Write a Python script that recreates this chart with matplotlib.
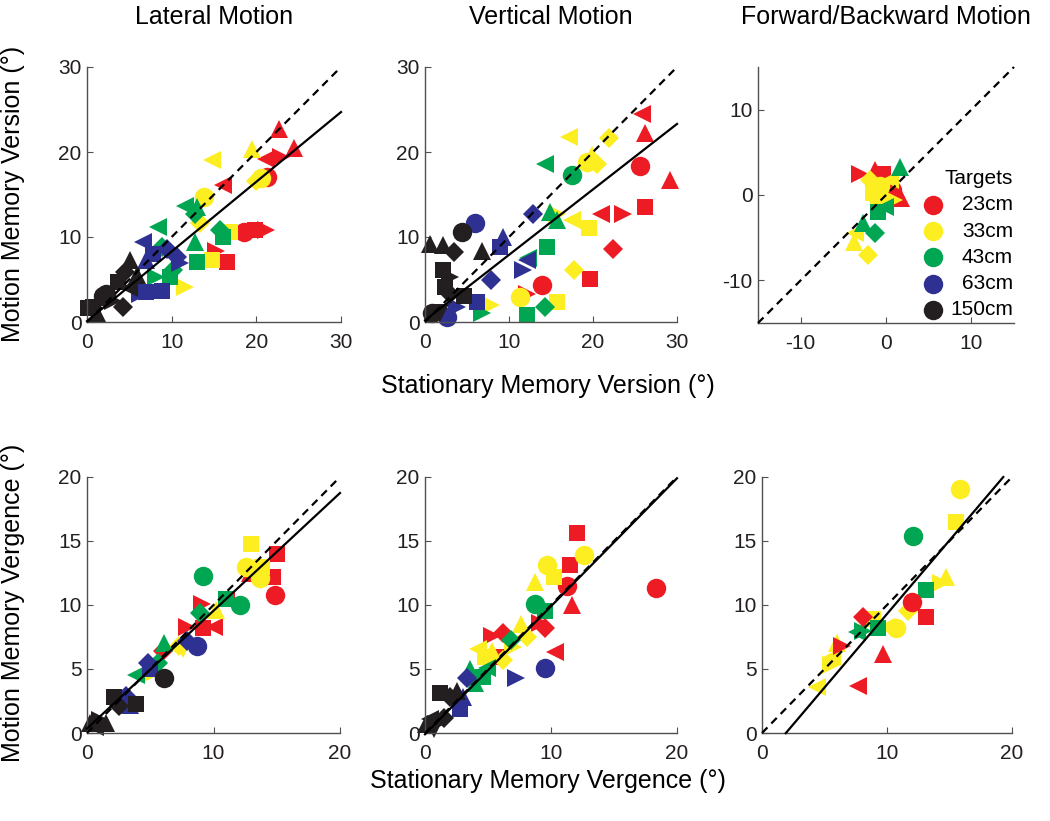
import matplotlib.pyplot as plt

plt.rcParams['font.family'] = ['Liberation Sans', 'DejaVu Sans']
plt.rcParams['axes.unicode_minus'] = False

targets = ['23cm', '33cm', '43cm', '63cm', '150cm']
target_colors = ['#ED1C24', '#FCEE21', '#00A651', '#2E3192', '#231F20']

# (target index, stationary, motion, marker)
lat_version = [
    (0, 22.7, 22.7, '^'), (0, 24.5, 20.5, '^'), (0, 21.1, 19.2, '<'), (0, 22.9, 19.4, '>'),
    (0, 21.3, 17.1, 'o'), (0, 16.1, 16.1, '<'), (0, 18.5, 10.6, 'o'), (0, 19.9, 10.8, 's'),
    (0, 21.1, 10.8, '>'), (0, 15.2, 8.4, '>'), (0, 16.5, 7.1, 's'),
    (1, 19.5, 20.4, '^'), (1, 14.8, 19.0, '<'), (1, 20.5, 16.9, 'o'), (1, 20.0, 16.6, 'd'),
    (1, 13.8, 14.7, 'o'), (1, 16.9, 10.6, 's'), (1, 13.4, 11.6, 'd'), (1, 14.8, 7.3, 's'),
    (1, 11.6, 4.1, '>'),
    (2, 11.6, 13.7, '<'), (2, 13.0, 13.5, '^'), (2, 12.8, 12.7, 'd'), (2, 8.4, 11.2, '<'),
    (2, 15.7, 10.8, 'd'), (2, 16.1, 10.0, 's'), (2, 12.8, 9.4, '^'), (2, 13.0, 7.1, 's'),
    (2, 8.8, 8.8, 'd'), (2, 10.2, 6.1, 'd'), (2, 8.2, 5.3, '>'), (2, 9.8, 5.3, 's'),
    (3, 6.6, 9.4, '<'), (3, 9.4, 8.6, 'd'), (3, 7.8, 8.0, 's'), (3, 10.6, 7.6, 'd'),
    (3, 7.0, 7.3, '^'), (3, 11.0, 6.9, '>'), (3, 8.8, 3.7, 's'), (3, 6.3, 3.3, '>'),
    (3, 7.0, 3.5, 's'),
    (4, 5.1, 7.3, '^'), (4, 4.5, 5.9, 'd'), (4, 3.7, 4.7, 's'), (4, 2.3, 3.3, 'o'),
    (4, 1.9, 3.1, 'o'), (4, 0.7, 1.8, 's'), (4, 0.1, 1.6, 's'), (4, 4.3, 1.8, 'd'),
    (4, 3.1, 2.5, '>'), (4, 5.9, 5.5, '^'), (4, 1.2, 1.0, '^'), (4, 5.0, 4.0, '<'),
]

vert_version = [
    (0, 25.8, 24.5, '<'), (0, 26.2, 22.2, '^'), (0, 25.6, 18.4, 'o'), (0, 29.2, 16.7, '^'),
    (0, 26.2, 13.5, 's'), (0, 20.9, 12.7, '<'), (0, 23.6, 12.7, '>'), (0, 22.4, 8.6, 'd'),
    (0, 19.7, 5.1, 's'), (0, 13.9, 4.3, 'o'), (0, 12.1, 3.3, '>'),
    (1, 17.1, 21.8, '<'), (1, 21.9, 21.6, 'd'), (1, 19.9, 19.6, '^'), (1, 19.3, 18.8, 'o'),
    (1, 20.5, 18.6, 'd'), (1, 15.7, 12.7, '>'), (1, 17.5, 12.0, '<'), (1, 19.5, 11.0, 's'),
    (1, 17.7, 6.1, 'd'), (1, 15.7, 2.4, 's'), (1, 11.3, 2.9, 'o'), (1, 7.9, 2.0, '>'),
    (2, 14.3, 18.6, '<'), (2, 17.5, 17.3, 'o'), (2, 14.9, 12.9, '^'), (2, 15.7, 12.0, '^'),
    (2, 14.5, 8.8, 's'), (2, 12.3, 7.5, '<'), (2, 6.8, 1.0, '>'), (2, 12.1, 0.8, 's'),
    (2, 14.3, 1.8, 'd'),
    (3, 6.0, 11.6, 'o'), (3, 9.3, 10.0, '^'), (3, 8.9, 8.8, 's'), (3, 12.9, 12.7, 'd'),
    (3, 12.1, 7.3, '<'), (3, 11.7, 6.1, '>'), (3, 7.9, 4.9, 'd'), (3, 6.2, 2.4, 's'),
    (3, 2.6, 0.6, 'o'), (3, 3.8, 1.8, '>'),
    (4, 0.6, 9.2, '^'), (4, 2.2, 9.0, '^'), (4, 3.4, 8.2, 'd'), (4, 4.4, 10.6, 'o'),
    (4, 6.8, 8.4, '^'), (4, 2.2, 6.1, 's'), (4, 3.0, 5.3, '>'), (4, 2.4, 4.1, 's'),
    (4, 3.0, 3.3, 'd'), (4, 0.8, 1.0, 'o'), (4, 4.6, 3.1, 's'), (4, 1.8, 1.0, 'v'),
]

fb_version = [
    (0, -3.0, 2.5, '>'), (0, -1.3, 2.9, '^'), (0, -0.3, 2.5, 's'), (0, 0.7, 0.6, 'o'),
    (0, 1.8, -0.4, '^'),
    (1, -1.9, 1.8, 'd'), (1, -0.7, 1.0, 'o'), (1, 0.5, 1.8, '<'), (1, -1.5, 0.2, 's'),
    (1, 0.9, -0.6, '>'), (1, -0.9, -0.4, 'o'), (1, -3.6, -4.5, '<'), (1, -3.8, -5.5, '^'),
    (1, -2.1, -7.0, 'd'),
    (2, 1.6, 3.3, '^'), (2, -0.9, -2.0, 's'), (2, -0.1, -1.4, '<'), (2, -2.7, -3.3, '^'),
    (2, -1.3, -4.5, 'd'),
]

lat_vergence = [
    (0, 15.0, 14.0, 's'), (0, 14.7, 12.2, 's'), (0, 14.9, 10.8, 'o'), (0, 12.9, 12.5, '^'),
    (0, 9.1, 10.1, '>'), (0, 11.0, 10.4, '<'), (0, 7.9, 8.3, '>'), (0, 9.2, 8.2, 's'),
    (0, 10.0, 8.3, '<'), (0, 6.0, 6.4, 'd'),
    (1, 13.0, 14.8, 's'), (1, 12.6, 13.0, 'o'), (1, 13.8, 13.0, 's'), (1, 13.7, 12.1, 'o'),
    (1, 10.2, 9.6, '^'), (1, 7.3, 6.8, 'd'), (1, 7.6, 6.6, 'v'), (1, 5.2, 4.7, '>'),
    (2, 9.2, 12.3, 'o'), (2, 12.1, 10.0, 'o'), (2, 11.0, 10.5, 's'), (2, 8.9, 9.4, 'd'),
    (2, 6.1, 7.0, '^'), (2, 5.6, 5.5, 'd'), (2, 3.9, 4.5, '<'),
    (3, 8.7, 6.8, 'o'), (3, 7.9, 7.2, 'd'), (3, 5.0, 5.0, 's'), (3, 3.1, 2.9, 'd'),
    (3, 3.4, 2.2, '^'), (3, 4.8, 5.5, 'd'),
    (4, 6.1, 4.3, 'o'), (4, 2.1, 2.8, 's'), (4, 3.9, 2.3, 's'), (4, 2.5, 2.1, 'd'),
    (4, 0.2, 0.8, '^'), (4, 1.0, 1.0, '>'), (4, 1.5, 0.8, '^'), (4, 0.6, 0.5, '<'),
]

vert_vergence = [
    (0, 12.1, 15.6, 's'), (0, 11.5, 13.1, 's'), (0, 11.3, 11.5, 'o'), (0, 11.7, 10.0, '^'),
    (0, 18.3, 11.3, 'o'), (0, 9.1, 8.6, '>'), (0, 9.5, 8.2, 'd'), (0, 6.2, 7.8, 'd'),
    (0, 5.3, 7.6, '>'), (0, 10.3, 6.3, '<'), (0, 5.7, 5.9, 's'),
    (1, 12.6, 13.9, 'o'), (1, 9.7, 13.1, 'o'), (1, 10.2, 12.2, 's'), (1, 8.7, 11.8, '^'),
    (1, 7.6, 8.5, '^'), (1, 8.1, 7.5, 'd'), (1, 7.0, 6.7, '>'), (1, 4.2, 6.6, '<'),
    (1, 5.3, 6.4, '^'), (1, 6.2, 5.7, 'd'), (1, 4.8, 5.9, 's'),
    (2, 8.7, 10.1, 'o'), (2, 9.5, 9.5, 's'), (2, 6.8, 7.3, 'd'), (2, 3.6, 5.0, '^'),
    (2, 4.9, 5.1, '<'), (2, 4.0, 3.9, '^'), (2, 4.6, 4.4, 's'),
    (3, 9.5, 5.1, 'o'), (3, 7.2, 4.3, '>'), (3, 3.3, 4.3, 'd'), (3, 3.0, 2.8, '^'),
    (3, 2.8, 1.9, 's'), (3, 2.5, 2.4, 'd'),
    (4, 1.2, 3.1, 's'), (4, 2.0, 2.8, 'd'), (4, 2.5, 3.3, '^'), (4, 0.4, 1.1, '<'),
    (4, 0.1, 0.7, '^'), (4, 0.9, 0.7, '>'), (4, 0.7, 0.3, 'v'), (4, 1.5, 1.2, 'd'),
]

fb_vergence = [
    (1, 15.8, 19.1, 'o'), (1, 15.5, 16.5, 's'), (1, 14.7, 12.2, '^'), (1, 14.3, 11.7, '>'),
    (1, 11.7, 9.5, 'd'), (1, 10.7, 8.2, 'o'), (1, 9.9, 8.3, '<'), (1, 8.9, 8.9, 's'),
    (1, 6.0, 7.0, '^'), (1, 5.6, 5.9, '<'), (1, 5.5, 5.3, '>'), (1, 4.4, 3.6, '<'),
    (2, 12.1, 15.4, 'o'), (2, 13.1, 11.2, 's'), (2, 9.3, 8.2, 's'), (2, 7.6, 7.9, '<'),
    (2, 8.1, 8.0, '>'),
    (0, 12.0, 10.2, 'o'), (0, 13.1, 9.1, 's'), (0, 8.1, 9.1, 'd'), (0, 9.7, 6.2, '^'),
    (0, 6.4, 6.8, '>'), (0, 7.7, 3.7, '<'),
]

# regression fits: (slope, intercept, x start, x end)
lat_version_fit = (0.82, 0.1, 0, 30)
vert_version_fit = (0.77, 0.2, 0, 30)
lat_vergence_fit = (0.92, 0.35, 0, 20)
vert_vergence_fit = (1.0, -0.1, 0, 20)
fb_vergence_fit = (1.15, -2.2, 1.9, 19.3)

marker_map = {'o': 'o', 's': 's', '^': '^', 'v': 'v', '<': '<', '>': '>', 'd': 'D'}
marker_size = {'o': 14, 's': 12, '^': 13.5, 'v': 13.5, '<': 13.5, '>': 13.5, 'd': 10}
axis_grey = '#505050'

fig = plt.figure(figsize=(10.5, 8.21), dpi=100)
W, H = 1050, 821


def make_ax(left, top, right, bottom):
    return fig.add_axes([left / W, 1 - bottom / H, (right - left) / W, (bottom - top) / H])


def style(ax, lim, ticks_x, ticks_y):
    ax.set_xlim(lim)
    ax.set_ylim(lim)
    ax.set_xticks(ticks_x)
    ax.set_yticks(ticks_y)
    for s in ['top', 'right']:
        ax.spines[s].set_visible(False)
    for s in ['left', 'bottom']:
        ax.spines[s].set_color(axis_grey)
        ax.spines[s].set_linewidth(1.0)
    ax.tick_params(direction='in', length=4, width=0.8, color=axis_grey,
                   labelsize=15, labelcolor='#231F20')
    ax.tick_params(axis='x', pad=8)
    ax.tick_params(axis='y', pad=4)


def draw(ax, pts, lim, fit=None):
    for t, x, y, m in pts:
        ax.plot(x, y, ls='none', marker=marker_map[m], ms=marker_size[m],
                color=target_colors[t], mec=target_colors[t], mew=0,
                clip_on=False, zorder=2)
    ax.plot(lim, lim, ls='--', dashes=(3.5, 2.5), color='black', lw=1.6,
            zorder=3, clip_on=False)
    if fit is not None:
        a, b, x0, x1 = fit
        ax.plot([x0, x1], [a * x0 + b, a * x1 + b], color='black', lw=1.6,
                zorder=4, clip_on=False)


ax1 = make_ax(87, 67, 341, 322)
ax2 = make_ax(425, 67, 677, 322)
ax3 = make_ax(758, 67, 1014, 323)
ax4 = make_ax(87, 477, 340, 733)
ax5 = make_ax(425, 477, 677, 733)
ax6 = make_ax(762, 477, 1012, 733)

draw(ax1, lat_version, [0, 30], lat_version_fit)
draw(ax2, vert_version, [0, 30], vert_version_fit)
draw(ax3, fb_version, [-15, 15])
draw(ax4, lat_vergence, [0, 20], lat_vergence_fit)
draw(ax5, vert_vergence, [0, 20], vert_vergence_fit)
draw(ax6, fb_vergence, [0, 20], fb_vergence_fit)

style(ax1, [0, 30], [0, 10, 20, 30], [0, 10, 20, 30])
style(ax2, [0, 30], [0, 10, 20, 30], [0, 10, 20, 30])
style(ax3, [-15, 15], [-10, 0, 10], [-10, 0, 10])
for ax in (ax4, ax5, ax6):
    style(ax, [0, 20], [0, 10, 20], [0, 5, 10, 15, 20])

ax1.set_title('Lateral Motion', fontsize=18, pad=31)
ax2.set_title('Vertical Motion', fontsize=18, pad=31)
ax3.set_title('Forward/Backward Motion', fontsize=18, pad=31)

fig.text(548 / W, 1 - 386 / H, 'Stationary Memory Version (°)', fontsize=18,
         ha='center', va='center')
fig.text(548 / W, 1 - 781 / H, 'Stationary Memory Vergence (°)', fontsize=18,
         ha='center', va='center')
fig.text(13 / W, 1 - 194 / H, 'Motion Memory Version (°)', fontsize=18,
         ha='center', va='center', rotation=90)
fig.text(13 / W, 1 - 603 / H, 'Motion Memory Vergence (°)', fontsize=18,
         ha='center', va='center', rotation=90)

# legend in the forward/backward panel, labels right-aligned as in the original
ax3.text(0.996, 0.566, 'Targets', transform=ax3.transAxes, fontsize=15,
         ha='right', va='center')
for i, (name, c) in enumerate(zip(targets, target_colors)):
    row_y = 0.461 - i * 0.1025
    ax3.plot(0.684, row_y, ls='none', marker='o', ms=14, color=c, mew=0,
             transform=ax3.transAxes, clip_on=False)
    ax3.text(0.996, row_y, name, transform=ax3.transAxes, fontsize=15,
             ha='right', va='center')

fig.savefig('out.png', dpi=100)
